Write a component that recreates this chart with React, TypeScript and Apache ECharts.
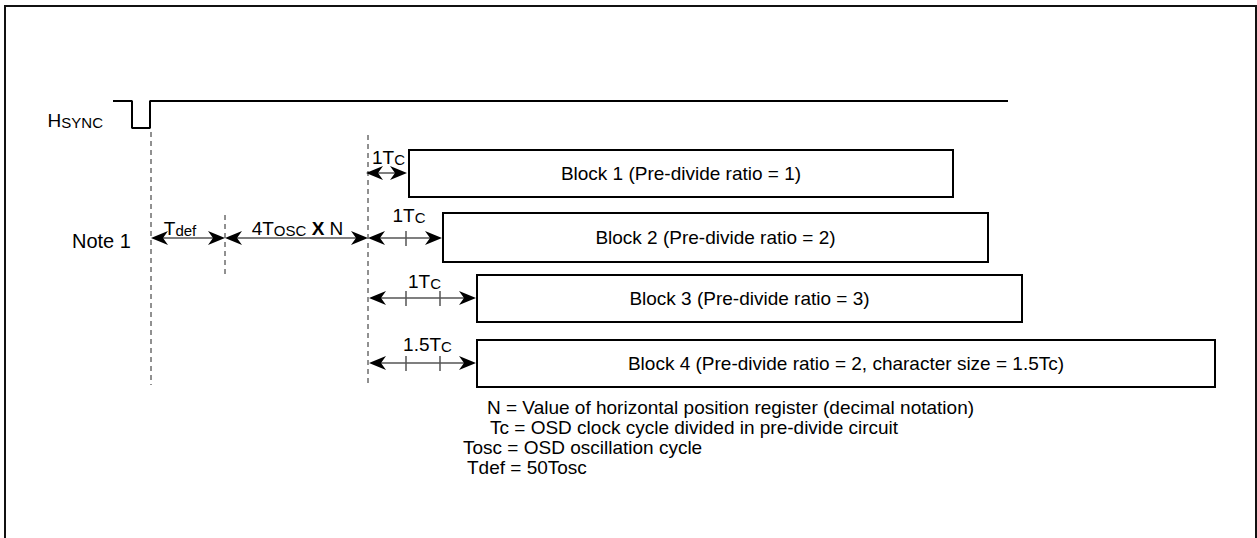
import React, { useEffect, useRef } from "react";
import * as echarts from "echarts";

const FONT = '"Liberation Sans", Arial, Helvetica, sans-serif';

// HSYNC waveform: time position and signal level (screen units)
const hsyncTime = [113, 132, 132, 150, 150, 1008];
const hsyncLevel = [101, 101, 128, 128, 101, 101];

// dashed reference lines
const guideTime = [151, 225, 368];
const guideFrom = [132, 215, 135];
const guideTo = [385, 276, 385];

// display blocks
const blockLabels = [
  "Block 1 (Pre-divide ratio = 1)",
  "Block 2 (Pre-divide ratio = 2)",
  "Block 3 (Pre-divide ratio = 3)",
  "Block 4 (Pre-divide ratio = 2, character size = 1.5Tc)",
];
const blockStart = [409, 443, 477, 477];
const blockEnd = [953, 988, 1022, 1215];
const blockTop = [150, 213, 275, 340];
const blockBottom = [197, 262, 322, 387];

// dimension arrows
const spanFrom = [366, 151, 225, 368, 369, 369];
const spanTo = [407, 225, 368, 442, 476, 476];
const spanLevel = [173, 238, 238, 238, 298, 363];
const spanLabels = [
  "{b|1T}{s|C}",
  "{b|T}{d|def}",
  "{b|4T}{s|OSC}{b| }{x|X}{b| N}",
  "{b|1T}{s|C}",
  "{b|1T}{s|C}",
  "{b|1.5T}{s|C}",
];

// tick marks on dimension arrows
const tickTime = [406, 406, 440, 406, 440];
const tickLevel = [238, 298, 298, 363, 363];

// note texts
const noteLines = [
  "N = Value of horizontal position register (decimal notation)",
  "Tc = OSD clock cycle divided in pre-divide circuit",
  "Tosc = OSD oscillation cycle",
  "Tdef = 50Tosc",
];

// layout (not data)
const spanLabelDx = [2, -8, 1, 4, 2, 5];
const spanLabelDy = [-16, -10, -10, -23, -17, -19];
const noteX = [487, 490, 463, 467];
const noteY = [407, 427, 447, 467];

const richStyles = {
  b: { fontSize: 19, fontFamily: FONT, fill: "#000", verticalAlign: "bottom", lineHeight: 20 },
  s: { fontSize: 15, fontFamily: FONT, fill: "#000", verticalAlign: "bottom", lineHeight: 20 },
  d: { fontSize: 15, fontFamily: FONT, fill: "#000", verticalAlign: "bottom", lineHeight: 18 },
  x: { fontSize: 19, fontFamily: FONT, fontWeight: "bold", fill: "#000", verticalAlign: "bottom", lineHeight: 20 },
  h: { fontSize: 19, fontFamily: FONT, fill: "#000", verticalAlign: "bottom", lineHeight: 20 },
  hs: { fontSize: 15, fontFamily: FONT, fill: "#000", verticalAlign: "bottom", lineHeight: 20 },
};

export default function App() {
  const ref = useRef<HTMLDivElement>(null);
  useEffect(() => {
    const chart = echarts.init(ref.current!, null, { renderer: "svg" });
    const option: any = {
      animation: false,
      backgroundColor: "#fff",
      grid: { left: 0, right: 0, top: 0, bottom: 0 },
      xAxis: { type: "value", min: 0, max: 1257, show: false },
      yAxis: { type: "value", min: 0, max: 538, inverse: true, show: false },
      graphic: [
        {
          type: "rect",
          shape: { x: 5, y: 6, width: 1251, height: 600 },
          style: { fill: "none", stroke: "#111", lineWidth: 2 },
          silent: true,
        },
      ],
      series: [
        {
          type: "line",
          name: "HSYNC",
          data: hsyncTime.map((t, i) => [t, hsyncLevel[i]]),
          symbol: "none",
          lineStyle: { color: "#000", width: 2 },
          silent: true,
        },
        {
          type: "custom",
          name: "guides",
          clip: false,
          silent: true,
          data: guideTime.map((t, i) => [t, guideFrom[i]]),
          renderItem: (params: any, api: any) => {
            const i = params.dataIndex;
            const a = api.coord([guideTime[i], guideFrom[i]]);
            const b = api.coord([guideTime[i], guideTo[i]]);
            return {
              type: "line",
              shape: { x1: a[0], y1: a[1], x2: b[0], y2: b[1] },
              style: { stroke: "#222", lineWidth: 1, lineDash: [5, 4] },
            };
          },
        },
        {
          type: "custom",
          name: "blocks",
          clip: false,
          silent: true,
          data: blockStart.map((s, i) => [s, blockTop[i]]),
          renderItem: (params: any, api: any) => {
            const i = params.dataIndex;
            const a = api.coord([blockStart[i], blockTop[i]]);
            const b = api.coord([blockEnd[i], blockBottom[i]]);
            return {
              type: "group",
              children: [
                {
                  type: "rect",
                  shape: { x: a[0], y: a[1], width: b[0] - a[0], height: b[1] - a[1] },
                  style: { fill: "#fff", stroke: "#000", lineWidth: 2 },
                },
                {
                  type: "text",
                  x: (a[0] + b[0]) / 2,
                  y: (a[1] + b[1]) / 2,
                  style: {
                    text: blockLabels[i],
                    fontSize: 19,
                    fontFamily: FONT,
                    fill: "#000",
                    align: "center",
                    verticalAlign: "middle",
                  },
                },
              ],
            };
          },
        },
        {
          type: "custom",
          name: "spans",
          clip: false,
          silent: true,
          data: spanFrom.map((s, i) => [s, spanLevel[i]]),
          renderItem: (params: any, api: any) => {
            const i = params.dataIndex;
            const a = api.coord([spanFrom[i], spanLevel[i]]);
            const b = api.coord([spanTo[i], spanLevel[i]]);
            const y = a[1];
            const L = 17;
            const H = 7;
            const N = 12;
            const cx = (a[0] + b[0]) / 2;
            return {
              type: "group",
              children: [
                {
                  type: "line",
                  shape: { x1: a[0] + 4, y1: y, x2: b[0] - 4, y2: y },
                  style: { stroke: "#555", lineWidth: 1.5 },
                },
                {
                  type: "polygon",
                  shape: { points: [[a[0], y], [a[0] + L, y - H], [a[0] + N, y], [a[0] + L, y + H]] },
                  style: { fill: "#000" },
                },
                {
                  type: "polygon",
                  shape: { points: [[b[0], y], [b[0] - L, y - H], [b[0] - N, y], [b[0] - L, y + H]] },
                  style: { fill: "#000" },
                },
                {
                  type: "text",
                  x: cx + spanLabelDx[i],
                  y: y + spanLabelDy[i],
                  style: {
                    text: spanLabels[i],
                    rich: richStyles,
                    fill: "#000",
                    align: "center",
                    verticalAlign: "middle",
                  },
                },
              ],
            };
          },
        },
        {
          type: "custom",
          name: "ticks",
          clip: false,
          silent: true,
          data: tickTime.map((t, i) => [t, tickLevel[i]]),
          renderItem: (params: any, api: any) => {
            const i = params.dataIndex;
            const p = api.coord([tickTime[i], tickLevel[i]]);
            return {
              type: "line",
              shape: { x1: p[0], y1: p[1] - 7, x2: p[0], y2: p[1] + 8 },
              style: { stroke: "#555", lineWidth: 1.5 },
            };
          },
        },
        {
          type: "custom",
          name: "notes",
          clip: false,
          silent: true,
          data: noteLines.map((_, i) => [noteX[i], noteY[i]]),
          renderItem: (params: any, api: any) => {
            const i = params.dataIndex;
            const p = api.coord([noteX[i], noteY[i]]);
            return {
              type: "text",
              x: p[0],
              y: p[1],
              style: {
                text: noteLines[i],
                fontSize: 19,
                fontFamily: FONT,
                fill: "#000",
                align: "left",
                verticalAlign: "middle",
              },
            };
          },
        },
        {
          type: "custom",
          name: "labels",
          clip: false,
          silent: true,
          data: [[103, 120], [72, 241]],
          renderItem: (params: any, api: any) => {
            const i = params.dataIndex;
            const p = api.coord(i === 0 ? [103, 120] : [72, 241]);
            if (i === 0) {
              return {
                type: "text",
                x: p[0],
                y: p[1],
                style: {
                  text: "{h|H}{hs|SYNC}",
                  rich: richStyles,
                  align: "right",
                  verticalAlign: "middle",
                },
              };
            }
            return {
              type: "text",
              x: p[0],
              y: p[1],
              style: {
                text: "Note 1",
                fontSize: 20,
                fontFamily: FONT,
                fill: "#000",
                align: "left",
                verticalAlign: "middle",
              },
            };
          },
        },
      ],
    };
    chart.setOption(option);
    return () => chart.dispose();
  }, []);
  return (
    <div
      ref={ref}
      style={{ position: "absolute", left: 0, top: 0, width: 1257, height: 538, background: "#fff" }}
    />
  );
}
